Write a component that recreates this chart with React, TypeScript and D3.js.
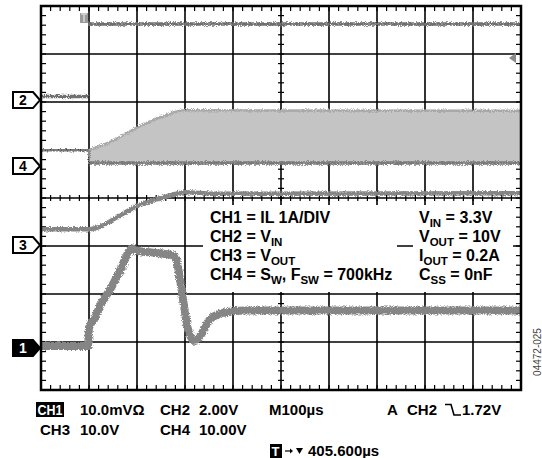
import React, { useRef, useEffect } from 'react';
import * as d3 from 'd3';

type Pt = [number, number]; // [time µs, value in channel units]
type BandPt = [number, number, number]; // [time µs, low, high]

// time base: M100µs, trigger one division from the left edge
const TIME_DOMAIN: [number, number] = [-100, 900];
const DIVS_X = 10;
const DIVS_Y = 8;

// CH1 = IL, 1A/div
const ch1Current: Pt[] = [
  [-100, 0.04], [-2, 0.04], [0, 0.42], [12, 0.62], [23, 0.88], [44, 1.22], [65, 1.62],
  [90, 2.08], [100, 2.03], [140, 1.98], [178, 1.92], [184, 1.75], [196, 1.0],
  [206, 0.4], [220, 0.15], [232, 0.26], [252, 0.6], [283, 0.74], [325, 0.78],
  [600, 0.78], [900, 0.78]
];

// CH2 = VIN, 2V/div
const ch2Before: Pt[] = [[-100, 0.15], [-2, 0.15]];
const ch2After: Pt[] = [[-2, 3.17], [900, 3.17]];

// CH3 = VOUT, 10V/div
const ch3Vout: Pt[] = [
  [-100, 3.3], [0, 3.3], [25, 3.9], [50, 5.3], [100, 8.1], [158, 10.0],
  [200, 11.0], [260, 10.7], [900, 10.8]
];

// CH4 = SW, 10V/div
const ch4Before: Pt[] = [[-100, 3.3], [0, 3.3]];
const ch4Band: BandPt[] = [
  [0, 0.6, 3.3], [50, 0.6, 5.3], [100, 0.6, 8.0], [150, 0.6, 10.2],
  [200, 0.6, 11.6], [900, 0.6, 11.5]
];

// ground marker position (divisions from bottom) and scale per division
const channels = [
  { id: '1', ground: 0.875, perDiv: 1 },
  { id: '2', ground: 6.04, perDiv: 2 },
  { id: '3', ground: 3.02, perDiv: 10 },
  { id: '4', ground: 4.667, perDiv: 10 }
];

const infoLeft = [
  [['CH1 = IL 1A/DIV', '']],
  [['CH2 = V', ''], ['IN', 'sub']],
  [['CH3 = V', ''], ['OUT', 'sub']],
  [['CH4 = S', ''], ['W', 'sub'], [', F', ''], ['SW', 'sub'], [' = 700kHz', '']]
];
const infoRight = [
  [['V', ''], ['IN', 'sub'], [' = 3.3V', '']],
  [['V', ''], ['OUT', 'sub'], [' = 10V', '']],
  [['I', ''], ['OUT', 'sub'], [' = 0.2A', '']],
  [['C', ''], ['SS', 'sub'], [' = 0nF', '']]
];

const FONT = '"Liberation Sans", Arial, Helvetica, sans-serif';
const TRACE = '#858585';

function drawScope(svgEl: SVGSVGElement) {
  const svg = d3.select(svgEl);
  svg.selectAll('*').remove();

  const frame = { left: 41, top: 6, right: 521, bottom: 390 };
  const x = d3.scaleLinear().domain(TIME_DOMAIN).range([frame.left, frame.right]);
  const div = d3.scaleLinear().domain([0, DIVS_Y]).range([frame.bottom, frame.top]);
  const yFor = (id: string) => {
    const ch = channels.find((c) => c.id === id)!;
    return (v: number) => div(ch.ground + v / ch.perDiv);
  };

  // 噪声滤镜，让波形有示波器的毛刺感
  const defs = svg.append('defs');
  const filter = defs
    .append('filter')
    .attr('id', 'fuzz')
    .attr('filterUnits', 'userSpaceOnUse')
    .attr('x', 0)
    .attr('y', 0)
    .attr('width', 542)
    .attr('height', 458);
  filter
    .append('feTurbulence')
    .attr('type', 'fractalNoise')
    .attr('baseFrequency', '1.6 1.1')
    .attr('numOctaves', 1)
    .attr('seed', 4)
    .attr('result', 'n');
  filter
    .append('feDisplacementMap')
    .attr('in', 'SourceGraphic')
    .attr('in2', 'n')
    .attr('scale', 5)
    .attr('xChannelSelector', 'R')
    .attr('yChannelSelector', 'G');

  svg.append('rect').attr('width', 542).attr('height', 458).attr('fill', '#fff');

  // grid
  const grid = svg.append('g').attr('stroke', '#000');
  const xLines = d3.range(1, DIVS_X).map((i) => frame.left + (i * (frame.right - frame.left)) / DIVS_X);
  const yLines = d3.range(1, DIVS_Y).map((i) => div(i));
  grid
    .selectAll('line.v')
    .data(xLines)
    .enter()
    .append('line')
    .attr('x1', (d) => d)
    .attr('x2', (d) => d)
    .attr('y1', frame.top)
    .attr('y2', frame.bottom)
    .attr('stroke-width', 1.6);
  grid
    .selectAll('line.h')
    .data(yLines)
    .enter()
    .append('line')
    .attr('x1', frame.left)
    .attr('x2', frame.right)
    .attr('y1', (d) => d)
    .attr('y2', (d) => d)
    .attr('stroke-width', 1.6);

  // minor ticks, 5 per division
  const minorX = d3.range(0, DIVS_X * 5 + 1).map((i) => frame.left + (i * (frame.right - frame.left)) / (DIVS_X * 5));
  const minorY = d3.range(0, DIVS_Y * 5 + 1).map((i) => div(i / 5));
  const cx = frame.left + (frame.right - frame.left) / 2;
  const cy = div(DIVS_Y / 2);
  const ticks = svg.append('g').attr('stroke', '#000').attr('stroke-width', 1.2);
  minorX.forEach((px) => {
    ticks.append('line').attr('x1', px).attr('x2', px).attr('y1', frame.top).attr('y2', frame.top + 5);
    ticks.append('line').attr('x1', px).attr('x2', px).attr('y1', frame.bottom).attr('y2', frame.bottom - 5);
    ticks.append('line').attr('x1', px).attr('x2', px).attr('y1', cy - 3).attr('y2', cy + 3);
  });
  minorY.forEach((py) => {
    ticks.append('line').attr('x1', frame.left).attr('x2', frame.left + 5).attr('y1', py).attr('y2', py);
    ticks.append('line').attr('x1', frame.right).attr('x2', frame.right - 5).attr('y1', py).attr('y2', py);
    ticks.append('line').attr('x1', cx - 3).attr('x2', cx + 3).attr('y1', py).attr('y2', py);
  });

  // traces
  const traces = svg.append('g').attr('filter', 'url(#fuzz)').attr('fill', 'none');
  const y4 = yFor('4');
  const band = d3
    .area<BandPt>()
    .x((d) => x(d[0]))
    .y0((d) => y4(d[1]))
    .y1((d) => y4(d[2]))
    .curve(d3.curveMonotoneX);
  traces.append('path').datum(ch4Band).attr('d', band).attr('fill', '#c4c4c4');
  const lineFor = (id: string) =>
    d3
      .line<Pt>()
      .x((d) => x(d[0]))
      .y((d) => yFor(id)(d[1]))
      .curve(d3.curveMonotoneX);
  traces
    .append('path')
    .datum(ch4Band.map((d) => [d[0], d[2]] as Pt))
    .attr('d', lineFor('4'))
    .attr('stroke', '#a8a8a8')
    .attr('stroke-width', 2.5);
  traces
    .append('path')
    .datum(ch4Band.map((d) => [d[0], d[1]] as Pt))
    .attr('d', lineFor('4'))
    .attr('stroke', '#7a7a7a')
    .attr('stroke-width', 3.5);
  traces.append('path').datum(ch4Before).attr('d', lineFor('4')).attr('stroke', '#7a7a7a').attr('stroke-width', 2.5);
  traces
    .append('line')
    .attr('x1', x(0))
    .attr('x2', x(0))
    .attr('y1', y4(3.3))
    .attr('y2', y4(0.6))
    .attr('stroke', '#8a8a8a')
    .attr('stroke-width', 2);

  traces.append('path').datum(ch2Before).attr('d', lineFor('2')).attr('stroke', '#6f6f6f').attr('stroke-width', 3.5);
  traces.append('path').datum(ch2After).attr('d', lineFor('2')).attr('stroke', '#6f6f6f').attr('stroke-width', 3.5);
  traces.append('path').datum(ch3Vout).attr('d', lineFor('3')).attr('stroke', TRACE).attr('stroke-width', 4.5);
  traces.append('path').datum(ch1Current).attr('d', lineFor('1')).attr('stroke', TRACE).attr('stroke-width', 8);

  // frame
  svg
    .append('rect')
    .attr('x', frame.left)
    .attr('y', frame.top)
    .attr('width', frame.right - frame.left)
    .attr('height', frame.bottom - frame.top)
    .attr('fill', 'none')
    .attr('stroke', '#000')
    .attr('stroke-width', 2.5);

  // trigger position and level markers
  svg.append('rect').attr('x', 80).attr('y', 13).attr('width', 8).attr('height', 10).attr('fill', '#9a9a9a');
  svg.append('path').attr('d', 'M81,14 H87 M84,14 V22').attr('stroke', '#d8d8d8').attr('stroke-width', 1.5);
  svg.append('path').attr('d', 'M509,58 L516,53 L516,63 Z').attr('fill', '#8a8a8a');

  // info boxes
  svg.append('rect').attr('x', 203).attr('y', 205).attr('width', 194).attr('height', 87).attr('fill', '#fff');
  svg.append('rect').attr('x', 413).attr('y', 205).attr('width', 100).attr('height', 87).attr('fill', '#fff');

  const writeRows = (rows: string[][][], x0: number, y0: number) => {
    rows.forEach((row, i) => {
      const t = svg
        .append('text')
        .attr('x', x0)
        .attr('y', y0 + i * 19)
        .attr('font-family', FONT)
        .attr('font-weight', 'bold')
        .attr('font-size', 16)
        .attr('fill', '#000');
      row.forEach(([s, kind]) => {
        const sp = t.append('tspan').text(s);
        if (kind === 'sub') sp.attr('font-size', 11.5).attr('dy', 3.5);
        else if (t.selectAll('tspan').size() > 1) sp.attr('dy', -3.5);
      });
    });
  };
  writeRows(infoLeft, 210, 223);
  writeRows(infoRight, 419, 223);

  // channel ground markers
  channels.forEach((ch) => {
    const py = div(ch.ground);
    const filled = ch.id === '1';
    svg
      .append('path')
      .attr('d', `M13,${py - 8} H33 L40,${py} L33,${py + 8} H13 Z`)
      .attr('fill', filled ? '#000' : '#fff')
      .attr('stroke', '#000')
      .attr('stroke-width', 2);
    svg
      .append('text')
      .attr('x', 23)
      .attr('y', py + 5)
      .attr('text-anchor', 'middle')
      .attr('font-family', FONT)
      .attr('font-weight', 'bold')
      .attr('font-size', 14)
      .attr('fill', filled ? '#fff' : '#000')
      .text(ch.id);
  });

  // bottom readout
  const readout = svg
    .append('g')
    .attr('font-family', FONT)
    .attr('font-weight', 'bold')
    .attr('font-size', 15)
    .attr('fill', '#000');
  readout.append('rect').attr('x', 36).attr('y', 402).attr('width', 28).attr('height', 15).attr('fill', '#000');
  readout
    .append('text')
    .attr('x', 37.5)
    .attr('y', 415)
    .attr('fill', '#fff')
    .attr('textLength', 25)
    .attr('lengthAdjust', 'spacingAndGlyphs')
    .text('CH1');
  readout.append('text').attr('x', 80).attr('y', 415).text('10.0mV\u03A9');
  readout.append('text').attr('x', 160).attr('y', 415).text('CH2');
  readout.append('text').attr('x', 199).attr('y', 415).text('2.00V');
  readout.append('text').attr('x', 269).attr('y', 415).text('M100\u00B5s');
  readout.append('text').attr('x', 387).attr('y', 415).text('A');
  readout.append('text').attr('x', 407).attr('y', 415).text('CH2');
  readout
    .append('path')
    .attr('d', 'M445,404.5 H451 L454,415 H461')
    .attr('fill', 'none')
    .attr('stroke', '#000')
    .attr('stroke-width', 1.6);
  readout.append('text').attr('x', 462).attr('y', 415).text('1.72V');
  readout.append('text').attr('x', 40).attr('y', 435).text('CH3');
  readout.append('text').attr('x', 80).attr('y', 435).text('10.0V');
  readout.append('text').attr('x', 160).attr('y', 435).text('CH4');
  readout.append('text').attr('x', 199).attr('y', 435).text('10.00V');
  readout.append('rect').attr('x', 270).attr('y', 444).attr('width', 12).attr('height', 14).attr('fill', '#000');
  readout.append('text').attr('x', 271.5).attr('y', 456).attr('fill', '#fff').attr('font-size', 13).text('T');
  readout.append('path').attr('d', 'M285,451 H291').attr('stroke', '#000').attr('stroke-width', 1.2);
  readout.append('path').attr('d', 'M290,448.5 L293,451 L290,453.5 Z').attr('fill', '#000');
  readout.append('path').attr('d', 'M296,448 H303 L299.5,454 Z').attr('fill', '#000');
  readout.append('text').attr('x', 308).attr('y', 456).text('405.600\u00B5s');

  svg
    .append('text')
    .attr('transform', 'translate(541,352) rotate(-90)')
    .attr('text-anchor', 'middle')
    .attr('font-family', FONT)
    .attr('font-size', 10)
    .attr('fill', '#444')
    .text('04472-025');
}

export default function App(): JSX.Element {
  const svgRef = useRef<SVGSVGElement>(null);

  useEffect(() => {
    const svgEl = svgRef.current;
    if (svgEl == null) {
      return;
    }
    drawScope(svgEl);
  }, []);

  return (
    <svg
      ref={svgRef}
      width={542}
      height={458}
      style={{ position: 'absolute', left: 0, top: 0 }}
    />
  );
}
